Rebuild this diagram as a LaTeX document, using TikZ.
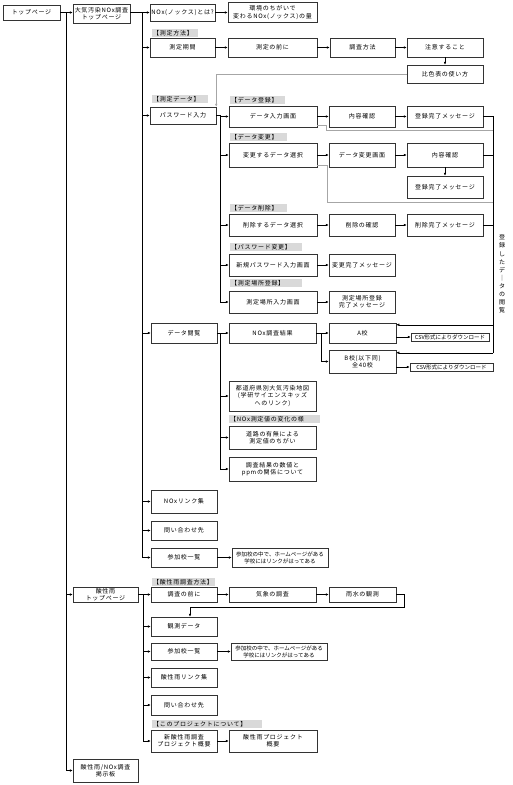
\documentclass[tikz,border=0pt]{standalone}
\usepackage{fontspec}
\setmainfont{Noto Sans CJK JP}[LetterSpace=12]
\newfontfamily\tightfont{Noto Sans CJK JP}
\usetikzlibrary{arrows.meta}

\begin{document}
\begin{tikzpicture}[x=1pt,y=-1pt,
  font=\fontsize{6}{7.4}\selectfont,
  box/.style={draw=black!80,line width=0.5pt,fill=white,inner sep=0pt,align=center},
  note/.style={box,font=\tightfont\fontsize{5.5}{7}\selectfont},
  tag/.style={fill=black!15,anchor=north west,inner xsep=1pt,inner ysep=0pt,align=left,minimum height=7.5pt},
  arr/.style={-{Latex[length=3pt,width=2.6pt]},line width=0.5pt},
  link/.style={line width=0.5pt},
  faint/.style={draw=black!35,line width=0.5pt}]
\path[fill=white] (0,0) rectangle (512,785);
\useasboundingbox (0,0) rectangle (512,785);

% first and second levels
\node[box,minimum width=57pt,minimum height=15pt] (top) at (31.5,12.5) {トップページ};
\node[box,minimum width=57pt,minimum height=19pt] (noxtop) at (101.5,13.5) {大気汚染NOx調査\\トップページ};
\node[box,minimum width=65pt,minimum height=15pt] (acidtop) at (105.5,594.5) {酸性雨\\トップページ};
\node[box,minimum width=65pt,minimum height=23pt] (board) at (105.5,770.5) {酸性雨/NOx調査\\掲示板};

\node[box,minimum width=65pt,minimum height=17pt] (noxwhat) at (182.5,12.5) {NOx(ノックス)とは?};
\node[box,minimum width=89pt,minimum height=20pt] (env) at (272.5,12.5) {環境のちがいで\\変わるNOx(ノックス)の量};

% measuring method
\node[tag,text width=44pt] (tagmethod) at (152,29) {【測定方法】};
\node[box,minimum width=65pt,minimum height=19pt] (period) at (182.5,47.5) {測定期間};
\node[box,minimum width=89pt,minimum height=19pt] (before) at (272.5,47.5) {測定の前に};
\node[box,minimum width=65pt,minimum height=19pt] (howto) at (362.5,47.5) {調査方法};
\node[box,minimum width=76pt,minimum height=19pt] (caution) at (445,47.5) {注意すること};
\node[box,minimum width=76pt,minimum height=18pt] (chart) at (445,74) {比色表の使い方};

% measured data
\node[tag,text width=54pt] (tagdata) at (152,95) {【測定データ】};
\node[box,minimum width=66pt,minimum height=17pt] (password) at (183,115.5) {パスワード入力};

\node[tag,text width=53pt] (tagreg) at (230,96) {【データ登録】};
\node[box,minimum width=88pt,minimum height=21pt] (input) at (273,116.5) {データ入力画面};
\node[box,minimum width=66pt,minimum height=21pt] (confirma) at (362,116.5) {内容確認};
\node[box,minimum width=76pt,minimum height=21pt] (regdonea) at (445,116.5) {登録完了メッセージ};

\node[tag,text width=55pt] (tagchange) at (230,133) {【データ変更】};
\node[box,minimum width=88pt,minimum height=24pt] (chsel) at (273,155) {変更するデータ選択};
\node[box,minimum width=66pt,minimum height=24pt] (chscreen) at (362,155) {データ変更画面};
\node[box,minimum width=76pt,minimum height=24pt] (confirmb) at (445,155) {内容確認};
\node[box,minimum width=76pt,minimum height=22pt] (regdoneb) at (445,187) {登録完了メッセージ};

\node[tag,text width=55pt] (tagdelete) at (230,204) {【データ削除】};
\node[box,minimum width=88pt,minimum height=22pt] (delsel) at (273,225) {削除するデータ選択};
\node[box,minimum width=66pt,minimum height=22pt] (delconf) at (362,225) {削除の確認};
\node[box,minimum width=76pt,minimum height=22pt] (deldone) at (445,225) {削除完了メッセージ};

\node[tag,text width=70pt] (tagpw) at (230,243) {【パスワード変更】};
\node[box,minimum width=88pt,minimum height=22pt] (newpw) at (273,265) {新規パスワード入力画面};
\node[box,minimum width=66pt,minimum height=22pt] (pwdone) at (362,265) {変更完了メッセージ};

\node[tag,text width=70pt] (tagplace) at (230,279) {【測定場所登録】};
\node[box,minimum width=88pt,minimum height=22pt] (place) at (273,302) {測定場所入力画面};
\node[box,minimum width=66pt,minimum height=22pt] (placedone) at (362,302) {測定場所登録\\完了メッセージ};

% browsing
\node[box,minimum width=66pt,minimum height=20pt] (browse) at (184,333) {データ閲覧};
\node[box,minimum width=87pt,minimum height=20pt] (result) at (272.5,333) {NOx調査結果};
\node[box,minimum width=67pt,minimum height=20pt] (schoola) at (362.5,333) {A校};
\node[box,minimum width=67pt,minimum height=23pt] (schoolb) at (362.5,361.5) {B校(以下同)\\全40校};
\node[note,minimum width=78pt,minimum height=8pt] (csva) at (450,337) {CSV形式によりダウンロード};
\node[note,minimum width=83pt,minimum height=8pt] (csvb) at (451.5,367) {CSV形式によりダウンロード};
\node[box,minimum width=87pt,minimum height=30pt] (map) at (272.5,396) {都道府県別大気汚染地図\\(学研サイエンスキッズ\\へのリンク)};
\node[tag,text width=89pt] (tagnox) at (229,415) {【NOx測定値の変化の様};
\node[box,minimum width=87pt,minimum height=23pt] (road) at (272.5,437.5) {道路の有無による\\測定値のちがい};
\node[box,minimum width=87pt,minimum height=24pt] (ppm) at (272.5,469) {調査結果の数値と\\ppmの関係について};

\node[box,minimum width=66pt,minimum height=23pt] (links) at (184,501.5) {NOxリンク集};
\node[box,minimum width=66pt,minimum height=19pt] (contact) at (184,530.5) {問い合わせ先};
\node[box,minimum width=66pt,minimum height=19pt] (schools) at (184,557.5) {参加校一覧};
\node[note,minimum width=96pt,minimum height=19pt] (schoolsnote) at (280,557.5) {参加校の中で、ホームページがある\\学校にはリンクがはってある};

% acid rain
\node[tag,text width=61pt] (tagacid) at (152,578) {【酸性雨調査方法】};
\node[box,minimum width=66pt,minimum height=15pt] (acidbefore) at (184,594.5) {調査の前に};
\node[box,minimum width=87pt,minimum height=15pt] (weather) at (272.5,594.5) {気象の調査};
\node[box,minimum width=67pt,minimum height=15pt] (rain) at (362.5,594.5) {雨水の観測};
\node[box,minimum width=66pt,minimum height=19pt] (obsdata) at (184,626.5) {観測データ};
\node[box,minimum width=66pt,minimum height=17pt] (schoolsb) at (184,651.5) {参加校一覧};
\node[note,minimum width=96pt,minimum height=17pt] (schoolsnoteb) at (279,651.5) {参加校の中で、ホームページがある\\学校にはリンクがはってある};
\node[box,minimum width=66pt,minimum height=19pt] (acidlinks) at (184,677.5) {酸性雨リンク集};
\node[box,minimum width=66pt,minimum height=20pt] (contactb) at (184,705) {問い合わせ先};
\node[tag,text width=108pt] (tagproj) at (152,720) {【このプロジェクトについて】};
\node[box,minimum width=66pt,minimum height=22pt] (newproj) at (184,741) {新酸性雨調査\\プロジェクト概要};
\node[box,minimum width=88pt,minimum height=22pt] (proj) at (273,741) {酸性雨プロジェクト\\概要};

\node[align=center,inner sep=0pt,font=\fontsize{6}{8.1}\selectfont] (viewtag) at (502,274)
  {登\\録\\し\\た\\デ\\｜\\タ\\の\\閲\\覧};

% buses
\coordinate (busa) at (66,0);
\coordinate (busb) at (142,0);
\coordinate (busc) at (220,0);
\coordinate (busd) at (321,0);
\coordinate (buse) at (143,0);
\coordinate (busr) at (493,0);
\coordinate (ina) at ([yshift=-2pt]schoola.north east);
\coordinate (inb) at ([yshift=-3pt]schoolb.north east);

\draw[arr] (top.east) -- (top.east -| noxtop.west);
\draw[link] (busa |- top.east) -- (busa |- board.west);
\foreach \n in {acidtop,board} \draw[arr] (busa |- \n.west) -- (\n.west);

\draw[arr] (noxtop.east |- noxwhat.west) -- (noxwhat.west);
\draw[link] (busb |- noxwhat.west) -- (busb |- schools.west);
\foreach \n in {period,password,browse,links,contact,schools} \draw[arr] (busb |- \n.west) -- (\n.west);
\draw[arr] (noxwhat.east) -- (noxwhat.east -| env.west);

\draw[arr] (period) -- (before);
\draw[arr] (before) -- (howto);
\draw[arr] (howto) -- (caution);
\draw[arr] (caution) -- (chart);
\draw[faint,-{Latex[length=3pt,width=2.6pt]}] (chart.west) -| (password.north east);

\draw[link] (password.east) -- (busc |- password.east) -- (busc |- place.west);
\foreach \n in {input,chsel,delsel,newpw,place} \draw[arr] (busc |- \n.west) -- (\n.west);
\draw[arr] (input) -- (confirma);
\draw[arr] (confirma) -- (regdonea);
\draw[arr] (chsel) -- (chscreen);
\draw[arr] (chscreen) -- (confirmb);
\draw[arr] (confirmb) -- (regdoneb);
\draw[arr] (delsel) -- (delconf);
\draw[arr] (delconf) -- (deldone);
\draw[arr] (newpw) -- (pwdone);
\draw[arr] (place) -- (placedone);

% links to the data view
\draw[faint] ([yshift=2pt]input.south east) -- ++(9,0) -- ++(0,5) coordinate (fa) -- (busr |- fa);
\draw[faint] ([yshift=2pt]chsel.south east) -- ++(10,0) -- ++(0,37) coordinate (fb) -- (busr |- fb);
\draw[link] (regdonea.east) -- (busr |- regdonea.east) -- (busr |- inb);
\draw[link] (confirmb.east) -- (busr |- confirmb.east);
\draw[link] (deldone.east) -- (busr |- deldone.east);
\draw[arr] (busr |- ina) -- (ina);
\draw[arr] (busr |- inb) -- (inb);

\draw[link] (browse.east) -- (busc |- browse.east) -- (busc |- ppm.west);
\foreach \n in {result,map,road,ppm} \draw[arr] (busc |- \n.west) -- (\n.west);
\draw[link] (result.east) -- (busd |- result.east) -- (busd |- schoolb.west);
\foreach \n in {schoola,schoolb} \draw[arr] (busd |- \n.west) -- (\n.west);
\draw[arr] (schoola.east |- csva.west) -- (csva.west);
\draw[arr] (schoolb.east |- csvb.west) -- (csvb.west);
\draw[arr] (schools) -- (schoolsnote);

\draw[arr] (acidtop.east) -- (acidbefore.west);
\draw[link] (buse |- acidbefore.west) -- (buse |- newproj.west);
\foreach \n in {obsdata,schoolsb,acidlinks,contactb,newproj} \draw[arr] (buse |- \n.west) -- (\n.west);
\draw[arr] (acidbefore) -- (weather);
\draw[arr] (weather) -- (rain);
\draw[arr] (rain.east) -- ++(8,0) -- ++(0,12.5) -| ([xshift=6pt]obsdata.north);
\draw[arr] (schoolsb) -- (schoolsnoteb);
\draw[arr] (newproj) -- (proj);
\end{tikzpicture}
\end{document}
